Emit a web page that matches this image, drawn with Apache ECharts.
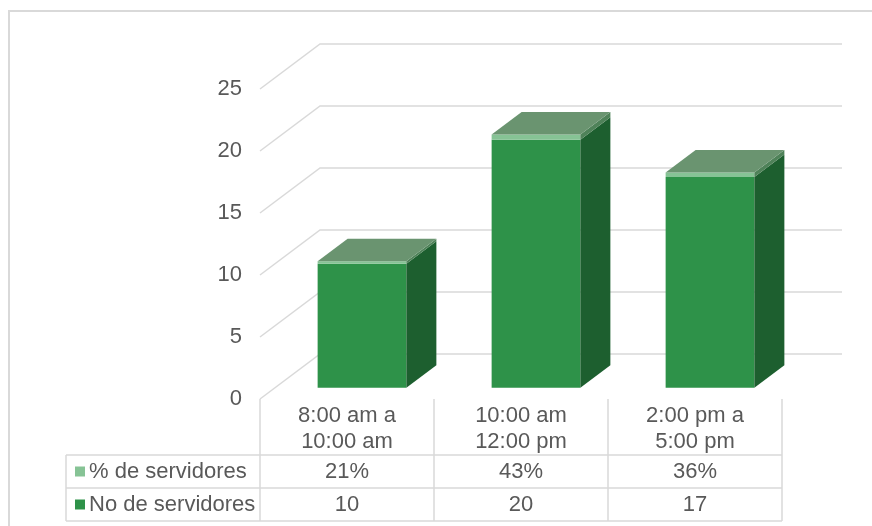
<!DOCTYPE html>
<html><head><meta charset="utf-8">
<script src="https://cdn.jsdelivr.net/npm/echarts/dist/echarts.min.js"></script>
<style>html,body{margin:0;padding:0;background:#fff}#c{width:872px;height:526px}</style>
</head><body><div id="c"></div>
<script>
// ---- data ----
const categories = ['8:00 am a\n10:00 am', '10:00 am\n12:00 pm', '2:00 pm a\n5:00 pm'];
const pctName = '% de servidores';
const countName = 'No de servidores';
const pctValues = [0.21, 0.43, 0.36];
const countValues = [10, 20, 17];
const pctLabels = ['21%', '43%', '36%'];
const countLabels = ['10', '20', '17'];
const yTicks = [0, 5, 10, 15, 20, 25];

// ---- layout / style ----
const W = 872, H = 526;
const GL = 260, GR = 782, GT = 89, GB = 399;
const DX = 60, DY = -45;
const FONT = "'Liberation Sans', Arial, sans-serif";
const TXT = '#595959';
const LINE = '#d9d9d9';
const countStyle = {front: '#2E9249', side: '#1D5F2F', top: '#6A9470'};
const pctStyle = {front: '#86C395', side: '#4F8259', top: '#6A9470'};
const TABLE_TOP = 455, ROW_H = 33, TABLE_LEFT = 66;

function barRender(st, drawTop) {
  return function (params, api) {
    const i = api.value(0), val = api.value(1), base = api.value(2);
    const band = api.size([1, 0])[0];
    const w = band * 0.51;
    const b = api.coord([i, base]);
    const t = api.coord([i, base + val]);
    const ox = DX * 0.25, oy = DY * 0.25;
    const ddx = DX * 0.5, ddy = DY * 0.5;
    const xl = b[0] - w / 2 + ox, xr = xl + w;
    const yb = b[1] + oy, yt = t[1] + oy;
    const ch = [
      {type: 'polygon', shape: {points: [[xl, yb], [xr, yb], [xr, yt], [xl, yt]]}, style: {fill: st.front}},
      {type: 'polygon', shape: {points: [[xr, yb], [xr + ddx, yb + ddy], [xr + ddx, yt + ddy], [xr, yt]]}, style: {fill: st.side}}
    ];
    if (drawTop) {
      ch.push({type: 'polygon', shape: {points: [[xl, yt], [xr, yt], [xr + ddx, yt + ddy], [xl + ddx, yt + ddy]]}, style: {fill: st.top}});
    }
    return {type: 'group', children: ch};
  };
}

function wallRender(params, api) {
  const cs = params.coordSys;
  const p = api.coord([0, api.value(1)]);
  const y = p[1];
  return {
    type: 'polyline',
    shape: {points: [[cs.x, y], [cs.x + DX, y + DY], [cs.x + cs.width + DX, y + DY]]},
    style: {stroke: LINE, lineWidth: 1.5, fill: null}
  };
}

const colW = (GR - GL) / categories.length;
const graphics = [];
// outer chart border
graphics.push({type: 'rect', shape: {x: 9, y: 11, width: W + 20, height: H + 20}, style: {fill: null, stroke: LINE, lineWidth: 2}, silent: true});
// table horizontal lines
for (let r = 0; r <= 2; r++) {
  const y = TABLE_TOP + r * ROW_H;
  graphics.push({type: 'line', shape: {x1: TABLE_LEFT, y1: y, x2: GR, y2: y}, style: {stroke: LINE, lineWidth: 1.5}});
}
// table vertical lines
graphics.push({type: 'line', shape: {x1: TABLE_LEFT, y1: TABLE_TOP, x2: TABLE_LEFT, y2: TABLE_TOP + 2 * ROW_H}, style: {stroke: LINE, lineWidth: 1.5}});
for (let k = 0; k <= categories.length; k++) {
  const x = GL + k * colW;
  graphics.push({type: 'line', shape: {x1: x, y1: GB, x2: x, y2: TABLE_TOP + 2 * ROW_H}, style: {stroke: LINE, lineWidth: 1.5}});
}
// row labels + legend keys
const rows = [
  {name: pctName, color: pctStyle.front, labels: pctLabels},
  {name: countName, color: countStyle.front, labels: countLabels}
];
rows.forEach((r, ri) => {
  const cy = TABLE_TOP + ri * ROW_H + ROW_H / 2;
  graphics.push({type: 'rect', shape: {x: 75, y: cy - 5, width: 10, height: 10}, style: {fill: r.color}});
  graphics.push({type: 'text', x: 89, y: cy, style: {text: r.name, fill: TXT, font: '22px ' + FONT, textVerticalAlign: 'middle', textAlign: 'left'}});
  r.labels.forEach((lab, ci) => {
    graphics.push({type: 'text', x: GL + colW * (ci + 0.5), y: cy, style: {text: lab, fill: TXT, font: '22px ' + FONT, textVerticalAlign: 'middle', textAlign: 'center'}});
  });
});

const chart = echarts.init(document.getElementById('c'), null, {renderer: 'canvas'});
chart.setOption({
  backgroundColor: '#ffffff',
  animation: false,
  grid: {left: GL, right: W - GR, top: GT, bottom: H - GB, containLabel: false},
  xAxis: {
    type: 'category', data: categories,
    axisLine: {show: false}, axisTick: {show: false},
    axisLabel: {color: TXT, fontSize: 22, fontFamily: FONT, lineHeight: 26, margin: 4}
  },
  yAxis: {
    type: 'value', min: 0, max: 25, interval: 5,
    axisLine: {show: false}, axisTick: {show: false}, splitLine: {show: false},
    axisLabel: {color: TXT, fontSize: 22, fontFamily: FONT, margin: 18}
  },
  series: [
    {type: 'custom', name: 'walls', renderItem: wallRender, clip: false, z: 1,
     data: yTicks.map(v => [0, v]), encode: {x: 0, y: 1}, silent: true},
    {type: 'custom', name: countName, renderItem: barRender(countStyle, false), clip: false, z: 2,
     data: countValues.map((v, i) => [i, v, 0]), encode: {x: 0, y: 1}},
    {type: 'custom', name: pctName, renderItem: barRender(pctStyle, true), clip: false, z: 3,
     data: pctValues.map((v, i) => [i, v, countValues[i]]), encode: {x: 0, y: 1}}
  ],
  graphic: graphics
});
</script></body></html>
